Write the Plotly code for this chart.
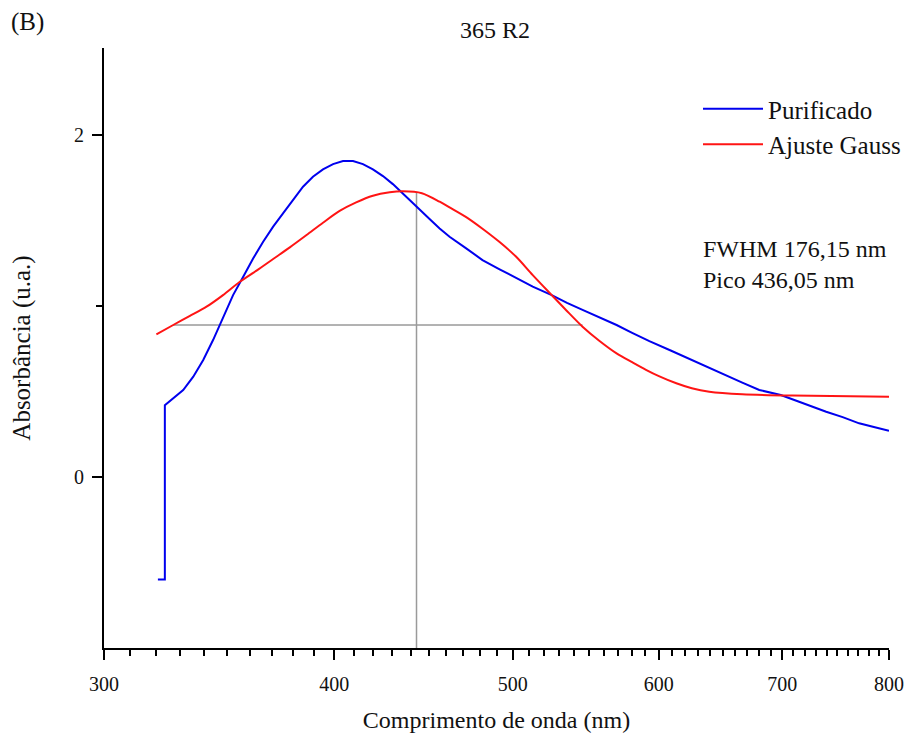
import plotly.graph_objects as go

# Purificado (espectro medido)
wl_pur = [320.9, 323.7, 323.7, 327.1, 331.2, 335.4, 339.6, 343.8, 348.1, 352.5, 357.0,
          361.5, 366.0, 370.6, 375.2, 379.9, 384.7, 389.5, 394.4, 399.4, 404.4, 409.5,
          414.6, 419.8, 425.1, 430.4, 435.8, 443.2, 450.6, 456.3, 462.0, 471.7, 481.4,
          491.8, 502.1, 512.6, 524.9, 535.0, 545.5, 557.0, 569.2, 580.0, 593.0, 609.0,
          625.3, 638.0, 652.5, 666.0, 680.3, 698.8, 715.0, 730.0, 739.6, 755.0, 770.7,
          785.0, 800.0]
abs_pur = [-0.60, -0.60, 0.42, 0.460, 0.509, 0.587, 0.684, 0.801, 0.937, 1.064, 1.171,
           1.279, 1.376, 1.464, 1.542, 1.620, 1.698, 1.756, 1.799, 1.830, 1.848, 1.848,
           1.830, 1.799, 1.760, 1.713, 1.659, 1.581, 1.509, 1.454, 1.405, 1.337, 1.269,
           1.215, 1.162, 1.113, 1.064, 1.018, 0.977, 0.935, 0.889, 0.845, 0.795, 0.740,
           0.684, 0.640, 0.596, 0.552, 0.509, 0.480, 0.440, 0.402, 0.382, 0.350, 0.314,
           0.292, 0.271]

# Ajuste Gauss
wl_fit = [320.3, 327.1, 334.0, 341.0, 348.1, 355.5, 363.0, 370.6, 378.4, 386.4, 394.4,
          402.7, 411.1, 419.8, 428.7, 435.8, 446.3, 456.3, 462.0, 471.7, 481.4, 491.8,
          502.1, 512.6, 524.9, 534.3, 545.5, 557.0, 569.2, 580.7, 590.5, 600.1, 613.3,
          625.3, 639.1, 666.0, 708.9, 800.0]
abs_fit = [0.834, 0.889, 0.942, 0.996, 1.064, 1.142, 1.207, 1.275, 1.343, 1.415, 1.487,
           1.556, 1.606, 1.645, 1.665, 1.671, 1.660, 1.610, 1.577, 1.520, 1.452, 1.374,
           1.288, 1.181, 1.064, 0.977, 0.879, 0.797, 0.723, 0.670, 0.627, 0.590, 0.548,
           0.519, 0.499, 0.484, 0.476, 0.470]

# linhas de meia altura e do pico
fwhm_x = [327.0, 545.5]
fwhm_y = [0.889, 0.889]
pico_x = [443.3, 443.3]
pico_y = [-1.0, 1.665]

x_ticks = [300, 400, 500, 600, 700, 800]
x_minor = [v for v in range(310, 800, 10) if v % 100 != 0]
y_ticks = [0, 2]
y_minor = [1]

serif = "Liberation Serif, Times New Roman, serif"

fig = go.Figure()
fig.add_trace(go.Scatter(x=fwhm_x, y=fwhm_y, mode="lines", showlegend=False,
                         line=dict(color="#666666", width=1), hoverinfo="skip"))
fig.add_trace(go.Scatter(x=pico_x, y=pico_y, mode="lines", showlegend=False,
                         line=dict(color="#9a9a9a", width=1.5), hoverinfo="skip"))
fig.add_trace(go.Scatter(x=wl_pur, y=abs_pur, mode="lines", name="Purificado",
                         line=dict(color="#0000ee", width=2)))
fig.add_trace(go.Scatter(x=wl_fit, y=abs_fit, mode="lines", name="Ajuste Gauss",
                         line=dict(color="#ff1414", width=2, shape="spline", smoothing=0.8)))

# a página tem 8 px de margem no body: a figura é 909x725 para caber na janela
fig.add_annotation(text="FWHM 176,15 nm<br>Pico 436,05 nm", xref="paper", yref="paper",
                   x=(702 - 104) / 786, y=(648 - 264) / 600, xanchor="left", yanchor="middle",
                   align="left", showarrow=False, font=dict(size=24, color="#111"))
fig.add_annotation(text="(B)", xref="paper", yref="paper",
                   x=(9 - 104) / 786, y=(648 - 22) / 600, xanchor="left", yanchor="middle",
                   showarrow=False, font=dict(size=25, color="#111"))

fig.update_layout(
    width=909, height=725,
    margin=dict(l=96, r=27, t=40, b=85),
    paper_bgcolor="white", plot_bgcolor="white",
    font=dict(family=serif, color="#111", size=20),
    title=dict(text="365 R2", x=(495 - 8) / 909, xanchor="center", y=1 - 22 / 725,
               yanchor="middle", font=dict(size=24)),
    legend=dict(x=(698 - 104) / 786, y=(648 - 86) / 600, xanchor="left", yanchor="top",
                font=dict(size=25), bgcolor="rgba(0,0,0,0)", itemwidth=60,
                borderwidth=0),
    showlegend=True,
)
fig.update_xaxes(
    type="log", range=[2.4771213, 2.9030900], showgrid=False, zeroline=False,
    showline=True, linecolor="black", linewidth=2,
    tickmode="array", tickvals=x_ticks, ticktext=[str(v) for v in x_ticks],
    ticks="outside", ticklen=10, tickwidth=2, tickcolor="black", ticklabelstandoff=7,
    minor=dict(tickmode="array", tickvals=x_minor, ticks="outside", ticklen=6,
               tickwidth=2, tickcolor="black", showgrid=False),
    title=dict(text="Comprimento de onda (nm)", font=dict(size=24), standoff=25),
    automargin=False,
)
fig.update_yaxes(
    range=[-1.0, 2.509], showgrid=False, zeroline=False,
    showline=True, linecolor="black", linewidth=2,
    tickmode="array", tickvals=y_ticks, ticktext=["0", "2"],
    ticks="outside", ticklen=10, tickwidth=2, tickcolor="black", ticklabelstandoff=4,
    minor=dict(tickmode="array", tickvals=y_minor, ticks="outside", ticklen=6,
               tickwidth=2, tickcolor="black", showgrid=False),
    title=dict(text="Absorbância (u.a.)", font=dict(size=25), standoff=36),
    automargin=False,
)

fig.write_html("out.html")
